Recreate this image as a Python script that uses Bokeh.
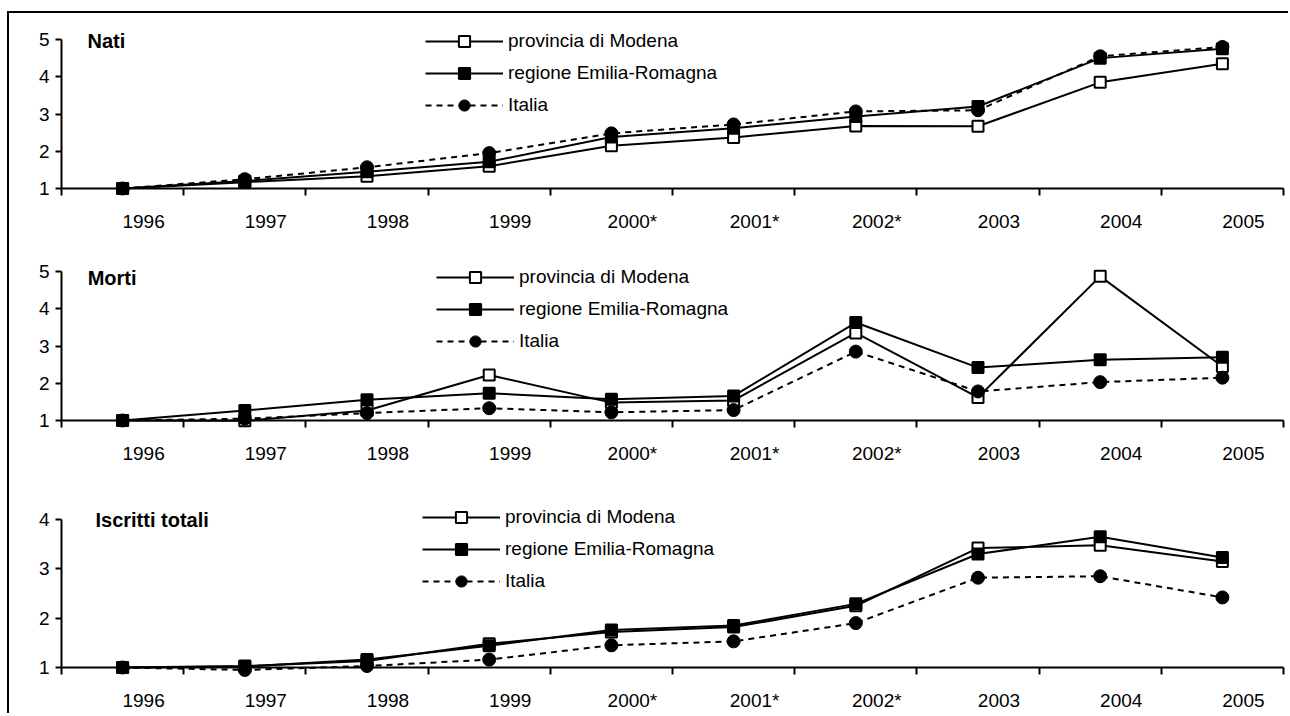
from bokeh.plotting import figure
from bokeh.layouts import column
from bokeh.models import Range1d, FixedTicker, Legend, LegendItem
from bokeh.core.properties import value
from bokeh.embed import file_html
from bokeh.resources import INLINE

# ---------------- data ----------------
years = ["1996", "1997", "1998", "1999", "2000*", "2001*", "2002*", "2003", "2004", "2005"]

series_names = ["provincia di Modena", "regione Emilia-Romagna", "Italia"]

nati_modena = [1.0, 1.17, 1.33, 1.60, 2.15, 2.37, 2.68, 2.67, 3.85, 4.35]
nati_emilia = [1.0, 1.20, 1.45, 1.72, 2.38, 2.62, 2.93, 3.20, 4.50, 4.75]
nati_italia = [1.0, 1.25, 1.57, 1.95, 2.48, 2.72, 3.07, 3.10, 4.55, 4.80]

morti_modena = [1.0, 0.99, 1.27, 2.22, 1.48, 1.54, 3.35, 1.62, 4.87, 2.45]
morti_emilia = [1.0, 1.27, 1.56, 1.73, 1.57, 1.66, 3.63, 2.42, 2.63, 2.70]
morti_italia = [1.0, 1.05, 1.20, 1.33, 1.22, 1.28, 2.85, 1.78, 2.03, 2.15]

iscritti_modena = [1.0, 1.03, 1.13, 1.48, 1.72, 1.82, 2.25, 3.42, 3.48, 3.15]
iscritti_emilia = [1.0, 1.02, 1.16, 1.44, 1.76, 1.85, 2.29, 3.30, 3.65, 3.23]
iscritti_italia = [1.0, 0.95, 1.03, 1.16, 1.45, 1.53, 1.90, 2.82, 2.85, 2.42]

FONT = "Liberation Sans"
LABEL_SHIFT = 0.171875  # year labels sit a little right of the category centre


def make_panel(title, modena, emilia, italia, ymax, height, frame_px, axis_px, bottom,
               legend_xy, title_xy):
    n = len(years)
    xs = [i + 0.5 for i in range(n)]
    ytop = 1 + frame_px * (ymax - 1) / axis_px
    p = figure(width=1281, height=height, output_backend="svg", toolbar_location=None,
               x_range=Range1d(0, n), y_range=Range1d(1, ytop),
               min_border_left=52, min_border_right=7,
               min_border_top=0, min_border_bottom=bottom)
    p.outline_line_color = None
    for g in (p.xgrid, p.ygrid):
        g.visible = False
    p.background_fill_color = "white"
    p.border_fill_color = "white"

    label_pos = [i + 0.5 + LABEL_SHIFT for i in range(n)]
    xa = p.xaxis[0]
    xa.ticker = FixedTicker(ticks=label_pos, minor_ticks=list(range(n + 1)))
    xa.major_label_overrides = {pos: lab for pos, lab in zip(label_pos, years)}
    xa.major_tick_out = 0
    xa.major_tick_in = 0
    xa.major_tick_line_color = None
    xa.minor_tick_out = 7
    xa.minor_tick_in = 0
    xa.minor_tick_line_width = 2
    xa.minor_tick_line_color = "black"
    xa.axis_line_width = 2
    xa.axis_line_color = "black"
    xa.major_label_standoff = 15
    xa.major_label_text_font = FONT
    xa.major_label_text_font_size = "19px"
    xa.major_label_text_color = "black"

    ya = p.yaxis[0]
    ya.ticker = FixedTicker(ticks=list(range(1, ymax + 1)), minor_ticks=[])
    ya.bounds = (1, ymax)
    ya.major_tick_out = 6
    ya.major_tick_in = 0
    ya.minor_tick_line_color = None
    ya.major_tick_line_width = 2
    ya.major_tick_line_color = "black"
    ya.axis_line_width = 2
    ya.axis_line_color = "black"
    ya.major_label_standoff = 6
    ya.major_label_text_font = FONT
    ya.major_label_text_font_size = "19px"
    ya.major_label_text_color = "black"

    items = []
    specs = [
        (modena, "square", "white", None, 11),
        (emilia, "square", "black", None, 11),
        (italia, "circle", "black", "6 5", 13),
    ]
    for name, (vals, mk, fill, dash, size) in zip(series_names, specs):
        lkw = dict(line_color="black", line_width=2, level="overlay")
        if dash:
            lkw["line_dash"] = dash
        lr = p.line(xs, vals, **lkw)
        sr = p.scatter(xs, vals, marker=mk, size=size, fill_color=fill,
                       line_color="black", line_width=2 if mk == "square" else 1,
                       level="overlay")
        items.append(LegendItem(label=name, renderers=[lr, sr]))

    legend = Legend(items=items, location=legend_xy, orientation="vertical",
                    glyph_width=78, glyph_height=28, spacing=4, label_standoff=5,
                    label_height=20, label_text_font=FONT, label_text_font_size="19px",
                    label_text_color="black", padding=0, margin=0,
                    border_line_color=None, background_fill_alpha=0)
    p.add_layout(legend)

    p.text(x=[title_xy[0]], y=[title_xy[1]], text=[title], text_font=value(FONT),
           text_font_style="bold", text_font_size="20px", text_baseline="middle",
           text_align="left", text_color="black", level="overlay")
    return p


p1 = make_panel("Nati", nati_modena, nati_emilia, nati_italia, 5,
                232, 175, 149, 57, (364, 69), (0.213, 4.96))
p2 = make_panel("Morti", morti_modena, morti_emilia, morti_italia, 5,
                230, 175, 149, 55, (375, 65), (0.214, 4.83))
p3 = make_panel("Iscritti totali", iscritti_modena, iscritti_emilia, iscritti_italia, 4,
                240, 192, 148, 48, (361, 72), (0.278, 3.98))

# frame of the whole picture: top and left edges only (the rest runs off the page)
layout = column(p1, p2, p3, styles={"box-shadow": "-2px -2px 0px 0px black",
                                    "margin-top": "13px",
                                    "margin-left": "9px"})

html = file_html(layout, INLINE)
html = html.replace("<head>", "<head><style>html, body { overflow: hidden; }</style>", 1)
open("out.html", "w").write(html)
